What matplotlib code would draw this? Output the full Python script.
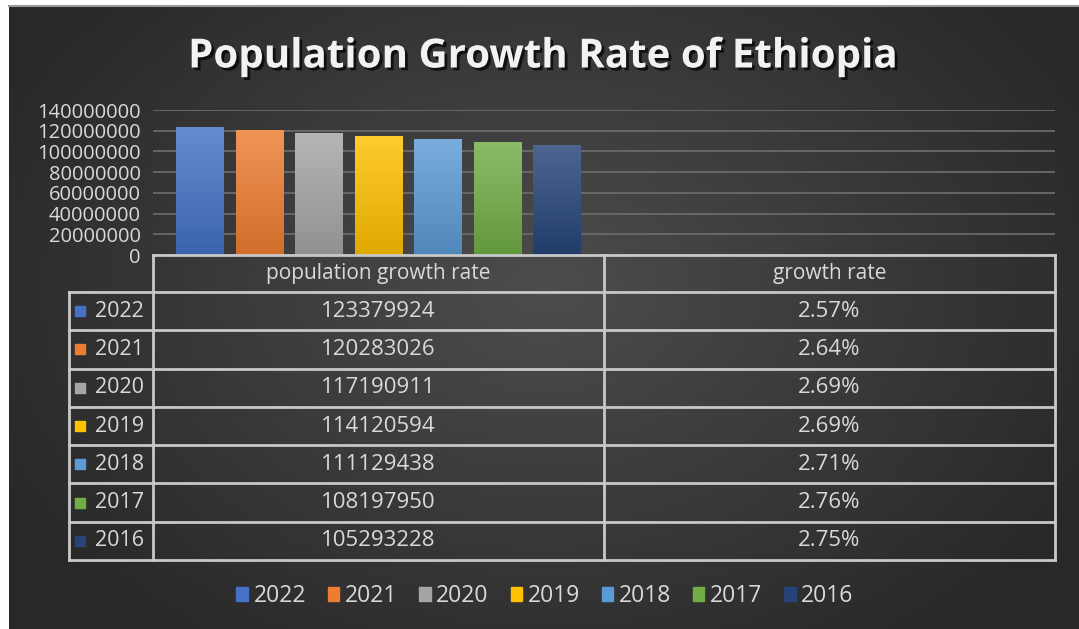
import matplotlib
matplotlib.use("Agg")
import matplotlib.pyplot as plt
import matplotlib.patheffects as pe
from matplotlib.patches import Rectangle
import numpy as np

plt.rcParams['font.family'] = ['Open Sans', 'DejaVu Sans']

years = ['2022', '2021', '2020', '2019', '2018', '2017', '2016']
population = [123379924, 120283026, 117190911, 114120594, 111129438, 108197950, 105293228]
growth_rate = [2.57, 2.64, 2.69, 2.69, 2.71, 2.76, 2.75]
categories = ['population growth rate', 'growth rate']
colors = ['#4472C4', '#ED7D31', '#A5A5A5', '#FFC000', '#5B9BD5', '#70AD47', '#264478']
y_ticks = np.arange(0, 140000001, 20000000)

W, H = 1079, 629
txt = '#d9d9d9'
line_c = '#c8c8c8'


def shade(c, f):
    r = np.array(matplotlib.colors.to_rgb(c))
    if f > 0:
        return tuple(r + (1 - r) * f)
    return tuple(r * (1 + f))


fig = plt.figure(figsize=(W / 100, H / 100), dpi=100, facecolor='white')

# dark radial background
bg = fig.add_axes([9 / W, 0, 1 - 9 / W, 1 - 6 / H])
yy, xx = np.mgrid[0:200, 0:300]
d = np.sqrt(((xx - 150) / 170.0) ** 2 + ((yy - 90) / 140.0) ** 2)
d = np.clip(d, 0, 1)
c_in = np.array([0.30, 0.30, 0.30])
c_out = np.array([0.16, 0.16, 0.16])
img = c_in[None, None, :] * (1 - d[..., None]) + c_out[None, None, :] * d[..., None]
bg.imshow(img, aspect='auto', extent=[0, 1, 0, 1], origin='upper')
bg.axis('off')
fig.add_artist(plt.Line2D([9 / W, 1], [1 - 5.5 / H, 1 - 5.5 / H], color='#9a9a9a', lw=1.5))

# column chart
ax = fig.add_axes([153 / W, 1 - 255 / H, (1055 - 153) / W, (255 - 110) / H])
ax.set_facecolor('none')
ax.set_xlim(-0.5, 1.5)
ax.set_ylim(0, 140000000)
ax.set_yticks(y_ticks)
ax.set_yticklabels([str(v) for v in y_ticks])
ax.tick_params(axis='y', length=0, pad=9, labelsize=14.5, labelcolor=txt)
ax.set_xticks([])
for s in ax.spines.values():
    s.set_visible(False)
ax.grid(axis='y', color='#6a6a6a', lw=1.3)
ax.set_axisbelow(True)

n = len(years)
step = 0.132
width = 0.106
offsets = (np.arange(n) - (n - 1) / 2) * step
grad = np.linspace(0, 1, 64)[:, None]
for i in range(n):
    for cat, val in zip([0, 1], [population[i], growth_rate[i] / 100]):
        x0 = cat + offsets[i] - width / 2
        ax.bar(cat + offsets[i], val, width=width, color=colors[i], zorder=2)
        if val > 1:
            top = np.array(shade(colors[i], 0.18))
            bot = np.array(shade(colors[i], -0.12))
            g = top[None, None, :] * (1 - grad[..., None]) + bot[None, None, :] * grad[..., None]
            ax.imshow(g, extent=[x0, x0 + width, 0, val], aspect='auto', origin='upper', zorder=3)
ax.set_xlim(-0.5, 1.5)
ax.set_ylim(0, 140000000)

# data table under the plot
tb = fig.add_axes([0, 0, 1, 1])
tb.set_xlim(0, W)
tb.set_ylim(H, 0)
tb.axis('off')
tb.patch.set_alpha(0)
x_key, x_c0, x_c1, x_end = 69, 153, 604, 1055
y_top, y_hdr = 255, 292
row_h = (560 - y_hdr) / n
lw = 2.0
tb.plot([x_c0, x_end], [y_top, y_top], color=line_c, lw=lw)
tb.plot([x_key, x_end], [y_hdr, y_hdr], color=line_c, lw=lw)
for i in range(n):
    yb = y_hdr + row_h * (i + 1)
    tb.plot([x_key, x_end], [yb, yb], color=line_c, lw=lw)
for xv, y0 in [(x_key, y_hdr), (x_c0, y_top), (x_c1, y_top), (x_end, y_top)]:
    tb.plot([xv, xv], [y0, 560], color=line_c, lw=lw)
for j, cat in enumerate(categories):
    xc = (x_c0 + x_c1) / 2 if j == 0 else (x_c1 + x_end) / 2
    tb.text(xc, (y_top + y_hdr) / 2, cat, ha='center', va='center', color=txt, fontsize=15)
for i in range(n):
    yc = y_hdr + row_h * (i + 0.5)
    tb.add_patch(Rectangle((75, yc - 5), 10, 10, color=colors[i]))
    tb.text(95, yc, years[i], ha='left', va='center', color=txt, fontsize=15.5)
    tb.text((x_c0 + x_c1) / 2, yc, str(population[i]), ha='center', va='center', color=txt, fontsize=16)
    tb.text((x_c1 + x_end) / 2, yc, f'{growth_rate[i]:.2f}%', ha='center', va='center', color=txt, fontsize=16)

# legend
handles = [Rectangle((0, 0), 1, 1, color=c) for c in colors]
fig.legend(handles, years, loc='center', bbox_to_anchor=(545 / W, 1 - 596 / H), ncol=n, frameon=False,
           handlelength=0.5, handleheight=0.55, handletextpad=0.25, columnspacing=0.95,
           fontsize=16.5, labelcolor=txt)

fig.text(542 / W, 1 - 57 / H, 'Population Growth Rate of Ethiopia', ha='center', va='center',
         color='#f2f2f2', fontsize=29, fontweight='bold',
         path_effects=[pe.withSimplePatchShadow(offset=(2, -2), shadow_rgbFace='black', alpha=0.7)])

fig.savefig('out.png', dpi=100, facecolor='white')
